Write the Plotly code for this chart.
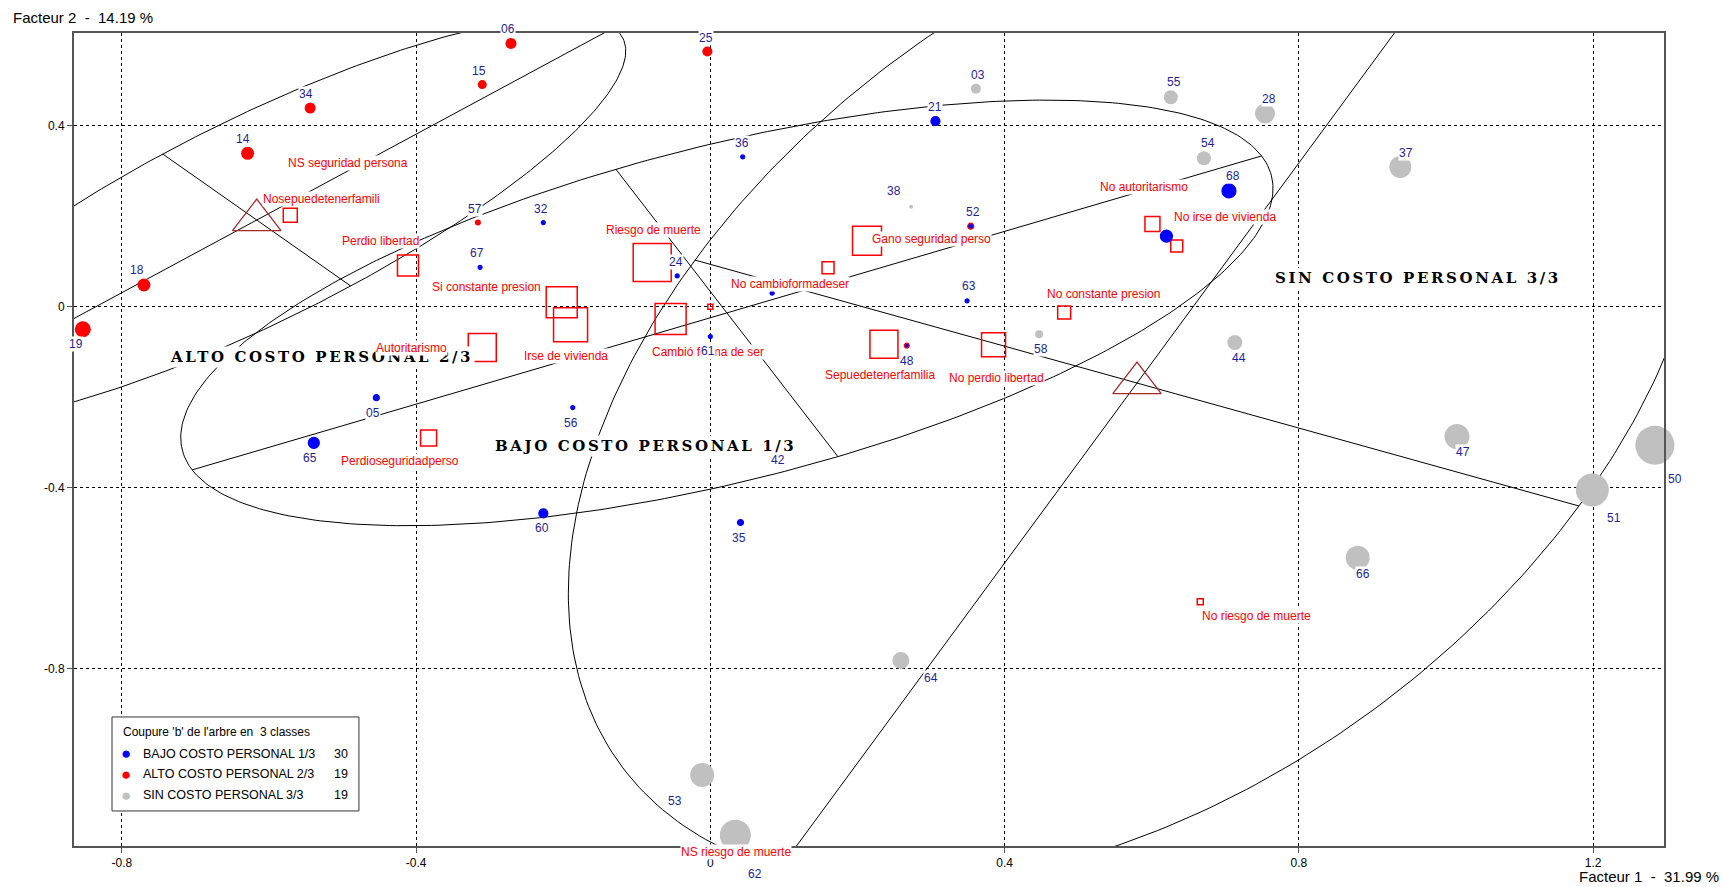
import numpy as np
import plotly.graph_objects as go

# ---------------- data ----------------
# individuals, class BAJO COSTO PERSONAL 1/3 (blue)
bajo_ids = ["21", "36", "32", "67", "24", "52", "63", "61", "56", "05", "65", "60", "35", "48", "68", "", "42", ""]
bajo_f1 = [0.306, 0.044, -0.227, -0.313, -0.045, 0.354, 0.349, 0.000, -0.187, -0.454, -0.539, -0.227, 0.041, 0.267, 0.705, 0.620, 0.092, 0.084]
bajo_f2 = [0.410, 0.331, 0.186, 0.087, 0.068, 0.178, 0.013, -0.066, -0.223, -0.201, -0.301, -0.457, -0.477, -0.086, 0.256, 0.156, -0.306, 0.030]

# individuals, class ALTO COSTO PERSONAL 2/3 (red)
alto_ids = ["06", "15", "34", "14", "18", "19", "57", "25"]
alto_f1 = [-0.271, -0.310, -0.544, -0.629, -0.770, -0.853, -0.316, -0.004]
alto_f2 = [0.582, 0.491, 0.439, 0.339, 0.048, -0.050, 0.186, 0.564]

# individuals, class SIN COSTO PERSONAL 3/3 (grey)
sin_ids = ["03", "38", "55", "28", "54", "37", "44", "58", "47", "51", "50", "66", "64", "53", "62"]
sin_f1 = [0.361, 0.273, 0.626, 0.754, 0.671, 0.938, 0.713, 0.447, 1.015, 1.199, 1.284, 0.880, 0.259, -0.011, 0.034]
sin_f2 = [0.482, 0.221, 0.463, 0.427, 0.328, 0.309, -0.079, -0.061, -0.287, -0.405, -0.306, -0.555, -0.782, -1.035, -1.168]

# active categories (red squares)
cat_names = ["NS seguridad persona", "Nosepuedetenerfamili", "Perdio libertad", "Si constante presion",
             "Irse de vivienda", "Autoritarismo", "Perdioseguridadperso", "Riesgo de muerte",
             "Cambió forma de ser", "No cambioformadeser", "Gano seguridad perso", "Sepuedetenerfamilia",
             "No perdio libertad", "No constante presion", "No autoritarismo", "No irse de vivienda",
             "No riesgo de muerte", "NS riesgo de muerte"]
cat_f1 = [0.000, -0.571, -0.411, -0.202, -0.190, -0.310, -0.383, -0.079, -0.054, 0.160, 0.213, 0.236,
          0.385, 0.481, 0.601, 0.634, 0.666, 0.033]
cat_f2 = [0.000, 0.202, 0.091, 0.010, -0.040, -0.090, -0.290, 0.098, -0.027, 0.086, 0.146, -0.083,
          -0.084, -0.013, 0.183, 0.134, -0.652, -1.172]

# classes: centre and semi-axes of the concentration ellipses
class_names = ["BAJO COSTO PERSONAL 1/3", "ALTO COSTO PERSONAL 2/3", "SIN COSTO PERSONAL 3/3"]
class_counts = [30, 19, 19]
ell_cx = [0.0225, -0.6166, 0.580]
ell_cy = [-0.0137, 0.1916, -0.1687]
ell_ax = [0.7269, 0.4851, 0.4863]
ell_ay = [0.3470, 0.4249, 1.0751]
ell_bx = [-0.1509, 0.1278, 0.6009]
ell_by = [0.3176, -0.1459, -0.2718]

x_ticks = [-0.8, -0.4, 0, 0.4, 0.8, 1.2]
x_tick_text = ["-0.8", "-0.4", "0", "0.4", "0.8", "1.2"]
y_ticks = [-0.8, -0.4, 0, 0.4]
y_tick_text = ["-0.8", "-0.4", "0", "0.4"]

# ---------------- styles ----------------
bajo_size = [9, 4, 4, 4, 4, 6, 4, 4, 4, 6, 11, 9, 6, 5, 14, 12, 4, 4]
bajo_line = ["#0000ff"] * 5 + ["#ff0000"] + ["#0000ff"] * 7 + ["#ff0000"] + ["#0000ff"] * 4
bajo_lab = [(0, -14), (-1, -14), (-2, -14), (-3, -14), (-1, -14), (2, -14), (2, -15), (-2, 14), (-2, 15),
            (-3, 15), (-4, 15), (-1, 15), (-1, 15), (0, 15), (4, -15), (0, -16), (0, 15), (0, -15)]
alto_size = [11, 9, 11, 13, 13, 16, 6, 10]
alto_lab = [(-3, -14), (-3, -14), (-4, -14), (-5, -14), (-7, -15), (-7, 15), (-3, -14), (-1, -14)]
sin_size = [10, 4, 14, 20, 14, 22, 15, 8, 25, 33, 39, 24, 17, 24, 31]
sin_lab = [(2, -14), (-17, -16), (3, -15), (4, -15), (4, -15), (6, -14), (4, 16), (2, 15), (6, 15),
           (22, 28), (20, 34), (5, 16), (30, 17), (-27, 26), (20, 39)]
cat_size = [5, 14, 21, 31, 34, 28, 16, 38, 31, 12, 29, 28, 24, 13, 15, 12, 6, 5]
cat_lab = [(-362, -144), (31, -16), (-27, -25), (-75, -15), (-5, 31), (-71, 1), (-29, 23), (1, -32),
           (37, 33), (-38, 16), (64, -2), (-4, 31), (3, 33), (39, -19), (-8, -37), (48, -29), (56, 14), (1, 15)]
class_lab_pos = [(-0.088, -0.307), (-0.528, -0.1105), (0.962, 0.0627)]

BLUE, RED, GREY = "#0000ff", "#ff0000", "#c0c0c0"
NAVY = "#1e1e96"
SANS = "Liberation Sans, Arial, sans-serif"
NB = "\u00a0"

fig = go.Figure()

# ellipses and their axes
t = np.linspace(0, 2 * np.pi, 400)
for cx, cy, ax, ay, bx, by in zip(ell_cx, ell_cy, ell_ax, ell_ay, ell_bx, ell_by):
    ex = cx + ax * np.cos(t) + bx * np.sin(t)
    ey = cy + ay * np.cos(t) + by * np.sin(t)
    fig.add_trace(go.Scatter(x=ex, y=ey, mode="lines", line=dict(color="black", width=1),
                             hoverinfo="skip", showlegend=False))
    fig.add_trace(go.Scatter(x=[cx - ax, cx + ax, None, cx - bx, cx + bx],
                             y=[cy - ay, cy + ay, None, cy - by, cy + by],
                             mode="lines", line=dict(color="black", width=1),
                             hoverinfo="skip", showlegend=False))

# class centroids (triangles) for ALTO and SIN
fig.add_trace(go.Scatter(x=ell_cx[1:], y=ell_cy[1:], mode="markers",
                         marker=dict(symbol="triangle-up-open", size=42, color="#a52a2a",
                                     line=dict(width=1.3, color="#a52a2a")),
                         hoverinfo="skip", showlegend=False))

# category squares
fig.add_trace(go.Scatter(x=cat_f1, y=cat_f2, mode="markers",
                         marker=dict(symbol="square-open", size=cat_size, color=RED, opacity=1,
                                     line=dict(width=1.5, color=RED)),
                         hoverinfo="skip", showlegend=False))

# individuals
fig.add_trace(go.Scatter(x=sin_f1, y=sin_f2, mode="markers", cliponaxis=False,
                         marker=dict(symbol="circle", size=sin_size, color=GREY, opacity=1,
                                     line=dict(width=0)),
                         hoverinfo="skip", showlegend=False))
fig.add_trace(go.Scatter(x=alto_f1, y=alto_f2, mode="markers",
                         marker=dict(symbol="circle", size=alto_size, color=RED, opacity=1,
                                     line=dict(width=0)),
                         hoverinfo="skip", showlegend=False))
fig.add_trace(go.Scatter(x=bajo_f1, y=bajo_f2, mode="markers",
                         marker=dict(symbol="circle", size=bajo_size, color=BLUE, opacity=1,
                                     line=dict(width=1.2, color=bajo_line)),
                         hoverinfo="skip", showlegend=False))

ann = []
# class labels (drawn first, other labels on top)
for name, (x, y) in zip(class_names, class_lab_pos):
    ann.append(dict(x=x, y=y, xref="x", yref="y", showarrow=False,
                    text='<span style="letter-spacing:2.6px">' + name + '</span>',
                    xanchor="center", yanchor="middle",
                    font=dict(family="DejaVu Serif, Liberation Serif, serif", size=15,
                              color="black", weight="bold"),
                    bgcolor="white", borderpad=1))

# category labels
for name, x, y, (dx, dy) in zip(cat_names, cat_f1, cat_f2, cat_lab):
    ann.append(dict(x=x, y=y, xref="x", yref="y", text=name, showarrow=False,
                    xshift=dx, yshift=-dy, xanchor="center", yanchor="middle",
                    font=dict(family=SANS, size=12, color=RED),
                    bgcolor="white", borderpad=0))

# individual labels
for ids, xs, ys, labs in [(bajo_ids, bajo_f1, bajo_f2, bajo_lab),
                          (alto_ids, alto_f1, alto_f2, alto_lab),
                          (sin_ids, sin_f1, sin_f2, sin_lab)]:
    for i, x, y, (dx, dy) in zip(ids, xs, ys, labs):
        if not i:
            continue
        ann.append(dict(x=x, y=y, xref="x", yref="y", text=i, showarrow=False,
                        xshift=dx, yshift=-dy, xanchor="center", yanchor="middle",
                        font=dict(family=SANS, size=12, color=NAVY),
                        bgcolor="white", borderpad=0))

# axis titles
ann.append(dict(x=-0.0396, y=1.0185, xref="paper", yref="paper", showarrow=False,
                text="Facteur 2" + NB * 2 + "-" + NB * 2 + "14.19 %", xanchor="left", yanchor="middle",
                font=dict(family=SANS, size=15, color="black")))
ann.append(dict(x=1.0355, y=-0.0381, xref="paper", yref="paper", showarrow=False,
                text="Facteur 1" + NB * 2 + "-" + NB * 2 + "31.99 %", xanchor="right", yanchor="middle",
                font=dict(family=SANS, size=15, color="black"), bgcolor="white", borderpad=0))

# legend box
ann.append(dict(x=0.0296, y=0.1402, xref="paper", yref="paper", showarrow=False,
                text="Coupure 'b' de l'arbre en" + NB * 2 + "3 classes", xanchor="left", yanchor="middle",
                font=dict(family=SANS, size=12, color="black")))
row_y = [0.1135, 0.0882, 0.0624]
for name, cnt, col, ry in zip(class_names, class_counts, [BLUE, RED, GREY], row_y):
    ann.append(dict(x=0.0326, y=ry, xref="paper", yref="paper", showarrow=False, text="●",
                    xanchor="center", yanchor="middle", font=dict(family=SANS, size=17, color=col)))
    ann.append(dict(x=0.0419, y=ry, xref="paper", yref="paper", showarrow=False, text=name,
                    xanchor="left", yanchor="middle", font=dict(family=SANS, size=12.5, color="black")))
    ann.append(dict(x=0.1733, y=ry, xref="paper", yref="paper", showarrow=False, text=str(cnt),
                    xanchor="right", yanchor="middle", font=dict(family=SANS, size=12.5, color="black")))

shapes = [dict(type="rect", xref="paper", yref="paper", x0=0.0239, x1=0.1792, y0=0.0431, y1=0.1587,
               line=dict(color="#333333", width=1), fillcolor="white", layer="above")]

axis_common = dict(showgrid=True, gridcolor="black", gridwidth=1, griddash="3px,3px",
                   zeroline=False, showline=True, linecolor="#555555", linewidth=2, mirror=True,
                   ticks="outside", ticklen=5, tickcolor="#555555", tickwidth=1,
                   tickfont=dict(family=SANS, size=12, color="black"))

fig.update_layout(
    width=1724, height=887,
    margin=dict(l=74, r=60, t=33, b=41),
    paper_bgcolor="white", plot_bgcolor="white",
    xaxis=dict(range=[-0.865, 1.2964], tickmode="array", tickvals=x_ticks, ticktext=x_tick_text,
               **axis_common),
    yaxis=dict(range=[-1.192, 0.605], tickmode="array", tickvals=y_ticks, ticktext=y_tick_text,
               **axis_common),
    annotations=ann,
    shapes=shapes,
    showlegend=False,
)

fig.write_html("out.html", config={"displayModeBar": False},
               post_script="document.body.style.margin='0';")
